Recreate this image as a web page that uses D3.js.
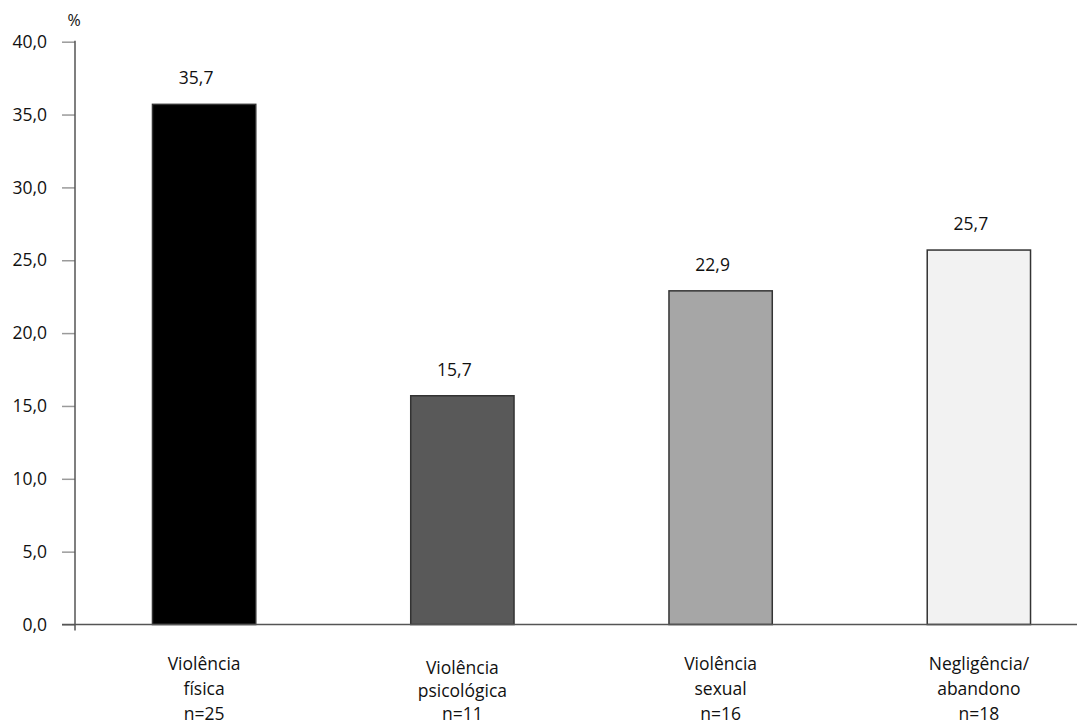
<!DOCTYPE html>
<html>
<head>
<meta charset="utf-8">
<script src="https://cdn.jsdelivr.net/npm/d3@7"></script>
<style>
  html, body { margin: 0; padding: 0; background: #fff; }
  svg { display: block; font-family: "Open Sans", sans-serif; }
</style>
</head>
<body>
<svg id="chart" width="1077" height="724"></svg>
<script>
const categories = ["Violência física", "Violência psicológica", "Violência sexual", "Negligência/abandono"];
const labelLines = [
  ["Violência", "física", "n=25"],
  ["Violência", "psicológica", "n=11"],
  ["Violência", "sexual", "n=16"],
  ["Negligência/", "abandono", "n=18"]
];
const values = [35.7, 15.7, 22.9, 25.7];
const fills = ["#000000", "#595959", "#a6a6a6", "#f2f2f2"];
const yTicks = [0, 5, 10, 15, 20, 25, 30, 35, 40];

const svg = d3.select("#chart");
const x0 = 75, y0 = 624.5, yTop = 41.7;
const FS = 17.5;

const x = d3.scaleBand().domain(categories).range([x0, 1108]).paddingInner(0.6).paddingOuter(0.3);
const y = d3.scaleLinear().domain([0, 40]).range([y0, yTop]);
const fmt = v => v.toFixed(1).replace(".", ",");

// y axis
const yAxis = d3.axisLeft(y).tickValues(yTicks).tickFormat(fmt).tickSize(13).tickPadding(15);
const ga = svg.append("g").attr("transform", `translate(${x0},0)`).call(yAxis);
ga.select(".domain").remove();
ga.selectAll(".tick line").attr("stroke", "#9a9a9a").attr("stroke-width", 1.5);
ga.selectAll(".tick text").attr("font-size", FS).attr("fill", "#111").attr("font-family", "Open Sans, sans-serif");
svg.append("line").attr("x1", x0).attr("x2", x0).attr("y1", y(40) - 1).attr("y2", y0 + 6)
  .attr("stroke", "#555").attr("stroke-width", 1.5);

svg.append("text").attr("x", 74).attr("y", 26).attr("text-anchor", "middle")
  .attr("font-size", 16).attr("fill", "#111").text("%");

// bars
svg.selectAll("rect.bar").data(values).join("rect")
  .attr("class", "bar")
  .attr("x", (d, i) => x(categories[i]))
  .attr("y", d => y(d))
  .attr("width", x.bandwidth())
  .attr("height", d => y0 - y(d))
  .attr("fill", (d, i) => fills[i])
  .attr("stroke", "#333")
  .attr("stroke-width", 1.5);

// x axis line
svg.append("line").attr("x1", 62).attr("x2", 1077).attr("y1", y0).attr("y2", y0)
  .attr("stroke", "#555").attr("stroke-width", 1.5);

// value labels
svg.selectAll("text.val").data(values).join("text")
  .attr("class", "val")
  .attr("x", (d, i) => x(categories[i]) + x.bandwidth() / 2 - 8)
  .attr("y", d => y(d) - 20)
  .attr("text-anchor", "middle")
  .attr("font-size", FS)
  .attr("fill", "#111")
  .text(fmt);

// category labels
const lineStarts = [670, 674, 670, 670];
const lineGaps = [25, 23, 25, 25];
labelLines.forEach((lines, i) => {
  const cx = x(categories[i]) + x.bandwidth() / 2;
  const t = svg.append("text").attr("text-anchor", "middle").attr("font-size", FS).attr("fill", "#111");
  lines.forEach((ln, j) => {
    t.append("tspan").attr("x", cx).attr("y", lineStarts[i] + j * lineGaps[i]).text(ln);
  });
});
</script>
</body>
</html>
